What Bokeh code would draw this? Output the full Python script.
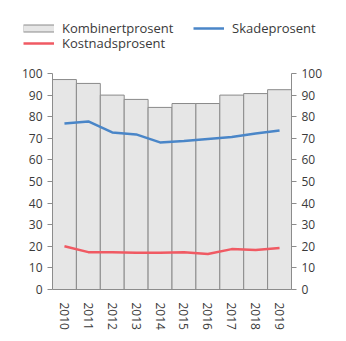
from bokeh.plotting import figure
from bokeh.models import (ColumnDataSource, FactorRange, Range1d, LinearAxis,
                          Legend, LegendItem, SingleIntervalTicker)
from bokeh.embed import file_html
from bokeh.resources import INLINE
import math

years = ["2010", "2011", "2012", "2013", "2014", "2015", "2016", "2017", "2018", "2019"]
kombinert = [97.2, 95.4, 90.0, 88.0, 84.3, 86.1, 86.1, 90.0, 90.7, 92.5]
skade = [76.9, 77.8, 72.7, 71.8, 68.1, 68.8, 69.7, 70.6, 72.2, 73.6]
kostnad = [20.0, 17.3, 17.3, 17.0, 17.0, 17.3, 16.4, 18.7, 18.3, 19.2]
y_ticks = list(range(0, 101, 10))

FONT = "Open Sans"
TXT = "#3a3a3a"
AX = "#8c8c8c"
BAR_FILL = "#e6e6e6"
BAR_LINE = "#8a8a8a"
BLUE = "#4a86c8"
RED = "#f05a63"

src = ColumnDataSource(dict(year=years, komb=kombinert, skade=skade, kost=kostnad))

p = figure(width=346, height=281, output_backend="svg", toolbar_location=None,
           x_range=FactorRange(*years, range_padding=0),
           y_range=Range1d(0, 100),
           min_border_left=52, min_border_right=55, min_border_top=13, min_border_bottom=52)
p.outline_line_color = None
p.background_fill_color = "white"
p.grid.visible = False

p.vbar(x="year", top="komb", width=1.0, source=src,
       fill_color=BAR_FILL, line_color=BAR_LINE, line_width=1)
p.line(x="year", y="skade", source=src, line_color=BLUE, line_width=2.5)
p.line(x="year", y="kost", source=src, line_color=RED, line_width=2.5)

def style_y(ax):
    ax.ticker = SingleIntervalTicker(interval=10)
    ax.axis_line_color = AX
    ax.major_tick_line_color = AX
    ax.major_tick_out = 5
    ax.major_tick_in = 0
    ax.minor_tick_line_color = None
    ax.major_label_text_font = FONT
    ax.major_label_text_font_size = "12px"
    ax.major_label_text_color = TXT
    ax.major_label_standoff = 5

style_y(p.yaxis[0])
right = LinearAxis()
style_y(right)
p.add_layout(right, "right")

xa = p.xaxis[0]
xa.axis_line_color = AX
xa.major_tick_line_color = None
xa.minor_tick_line_color = None
xa.major_label_orientation = -math.pi / 2
xa.major_label_text_font = FONT
xa.major_label_text_font_size = "12px"
xa.major_label_text_color = TXT
xa.major_label_standoff = 7

# legend strip (separate root so its frame spans the full width)
lf = figure(width=346, height=60, output_backend="svg", toolbar_location=None,
            x_axis_type=None, y_axis_type=None, x_range=Range1d(0, 1), y_range=Range1d(0, 1),
            min_border=0, min_border_left=0, min_border_right=0, min_border_top=0, min_border_bottom=0)
lf.outline_line_color = None
lf.grid.visible = False
proxy = ColumnDataSource(dict(x=[0, 0], y=[0, 0]))
sw_out = lf.line(x="x", y="y", source=proxy, line_color=BAR_LINE, line_width=8)
sw_in = lf.line(x="x", y="y", source=proxy, line_color=BAR_FILL, line_width=6)
lg_skade = lf.line(x="x", y="y", source=proxy, line_color=BLUE, line_width=2.5)
lg_kost = lf.line(x="x", y="y", source=proxy, line_color=RED, line_width=2.5)

def style_legend(lg):
    lg.label_text_font = FONT
    lg.label_text_font_size = "13px"
    lg.label_text_color = TXT
    lg.glyph_width = 31
    lg.glyph_height = 10
    lg.label_standoff = 8
    lg.label_height = 14
    lg.label_width = 128
    lg.spacing = 3
    lg.padding = 0
    lg.margin = 0
    lg.border_line_color = None
    lg.background_fill_alpha = 0

leg1 = Legend(items=[
    LegendItem(label="Kombinertprosent", renderers=[sw_out, sw_in]),
    LegendItem(label="Skadeprosent", renderers=[lg_skade]),
], location=(23, 23), orientation="horizontal")
leg2 = Legend(items=[
    LegendItem(label="Kostnadsprosent", renderers=[lg_kost]),
], location=(23, 8), orientation="horizontal")
style_legend(leg1)
style_legend(leg2)
lf.add_layout(leg1, "center")
lf.add_layout(leg2, "center")

open("out.html", "w").write(file_html([lf, p], INLINE))
